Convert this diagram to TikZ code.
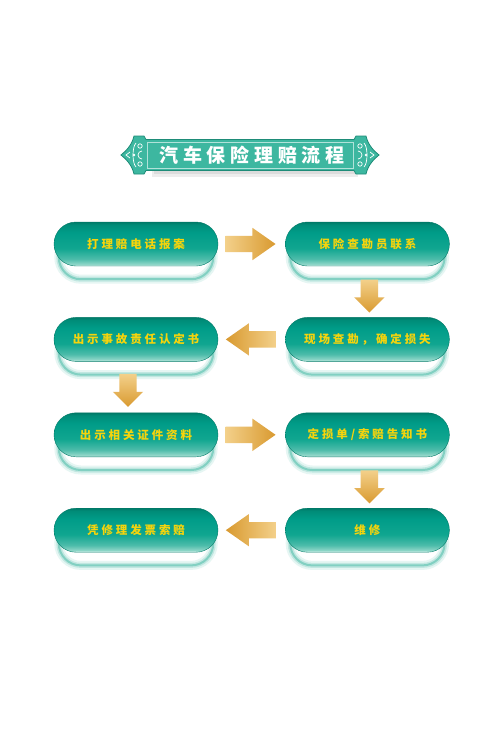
\documentclass[tikz,border=0pt]{standalone}
\usepackage{fontspec}
\newfontfamily\cjk[LetterSpace=25]{Noto Sans CJK SC}
\usetikzlibrary{calc, arrows, positioning, shapes.arrows, backgrounds}

\definecolor{pilldark}{HTML}{007A68}
\definecolor{pilltop}{HTML}{008C78}
\definecolor{pillteal}{HTML}{009C88}
\definecolor{pillmid}{HTML}{10A690}
\definecolor{pillsoft}{HTML}{4DBCAA}
\definecolor{pilllite}{HTML}{8FD6C8}
\definecolor{pillbot}{HTML}{E0F5F0}
\definecolor{pillrim}{HTML}{007A68}
\definecolor{glowteal}{HTML}{2FB09A}
\definecolor{labelyellow}{HTML}{F6D40C}
\definecolor{arrowlite}{HTML}{F3D08A}
\definecolor{arrowdark}{HTML}{D99A30}
\definecolor{bannerteal}{HTML}{3DB7A0}
\definecolor{bannerrim}{HTML}{1E8C78}

% shading of the pills: dark top, light rim at the bottom
\pgfdeclareverticalshading{pillshading}{100bp}{
	color(0bp)=(pillbot); color(25bp)=(pillbot); color(27bp)=(pilllite);
	color(33bp)=(pillsoft); color(45bp)=(pillmid); color(63bp)=(pillteal);
	color(72bp)=(pilltop); color(75bp)=(pilldark); color(100bp)=(pilldark)}

\begin{document}
\begin{tikzpicture} [x=1pt, y=1pt, node distance=51pt and 67pt,
		% define styles
		stepnode/.style={
			% The shape:
			rectangle,
			rounded corners=22pt,
			% The size:
			minimum width=164pt,
			minimum height=44pt,
			% The border:
			draw=pillrim, % thin dark rim
			% The filling:
			shading=pillshading,
			% Font
			font=\cjk\bfseries\fontsize{11.5}{12}\selectfont,
			text=labelyellow
		},
		glowouter/.style={
			rounded corners=22pt,
			draw=glowteal!12,
			line width=9pt,
			fill=white
		},
		glowmiddle/.style={
			rounded corners=22pt,
			draw=glowteal!30,
			line width=5pt
		},
		glowinner/.style={
			rounded corners=22pt,
			draw=glowteal!60,
			line width=2pt
		},
		rarrow/.style={
			single arrow,
			minimum height=50pt,
			inner sep=8pt,
			single arrow head extend=8pt,
			single arrow head indent=0pt,
			single arrow tip angle=70,
			left color=arrowlite,
			right color=arrowdark
		},
		larrow/.style={
			rarrow,
			shape border rotate=180,
			left color=arrowdark,
			right color=arrowlite
		},
		darrow/.style={
			single arrow,
			shape border rotate=270,
			minimum height=33pt,
			inner sep=8.5pt,
			single arrow head extend=6.5pt,
			single arrow head indent=0pt,
			single arrow tip angle=90,
			top color=arrowlite,
			bottom color=arrowdark
		},
		bannerfill/.style={
			fill=bannerteal,
			draw=bannerrim,
			line width=0.8pt
		},
		curl/.style={
			white,
			line width=0.7pt
		}]
		% end of style definition

		\useasboundingbox (0,0) rectangle (500,-750);

		% title
		\node (title) at (250,-155) {\cjk\bfseries\fontsize{19}{20}\selectfont\color{white}\hspace{4pt}汽车保险理赔流程};

		% draw nodes
		\node (iReport) [stepnode] at (136,-244) {打理赔电话报案};
		\node (iContact) [stepnode, right = of iReport] {保险查勘员联系};
		\node (iSurvey) [stepnode, below = of iContact] {现场查勘，确定损失};
		\node (iLiability) [stepnode, left = of iSurvey] {出示事故责任认定书};
		\node (iDocs) [stepnode, below = of iLiability] {出示相关证件资料};
		\node (iNotice) [stepnode, right = of iDocs] {定损单/索赔告知书};
		\node (iRepair) [stepnode, below = of iNotice] {维修};
		\node (iInvoice) [stepnode, left = of iRepair] {凭修理发票索赔};

		% connect nodes
		\path (iReport) -- (iContact) node [midway, rarrow, xshift=-7pt] (aOne) {};
		\path (iContact) -- (iSurvey) node [midway, darrow, xshift=2pt, yshift=0pt] (aTwo) {};
		\path (iSurvey) -- (iLiability) node [midway, larrow, xshift=5pt] (aThree) {};
		\path (iLiability) -- (iDocs) node [midway, darrow, xshift=-8pt, yshift=1pt] (aFour) {};
		\path (iDocs) -- (iNotice) node [midway, rarrow, xshift=-7pt] (aFive) {};
		\path (iNotice) -- (iRepair) node [midway, darrow, xshift=2pt, yshift=0pt] (aSix) {};
		\path (iRepair) -- (iInvoice) node [midway, larrow, xshift=5pt] (aSeven) {};

		\begin{scope}[on background layer]
			\fill[white] (0,0) rectangle (500,-750);
			% glow under the pills
			\foreach \n in {iReport, iContact, iSurvey, iLiability, iDocs, iNotice, iRepair, iInvoice} {
				\draw[glowouter] ($(\n.south west)+(5,-13)$) rectangle ($(\n.north east)+(-5,-13)$);
				\draw[glowmiddle] ($(\n.south west)+(5,-13)$) rectangle ($(\n.north east)+(-5,-13)$);
				\draw[glowinner] ($(\n.south west)+(5,-13)$) rectangle ($(\n.north east)+(-5,-13)$);
			}
			% banner behind the title
			\begin{scope}[shift={(title.center)}]
				\fill[black, opacity=0.07] (-98,6) rectangle (108,-22);
				\fill[black, opacity=0.07] (-96,4) rectangle (106,-19);
				\path[bannerfill] (-104,15.5) -- (104,15.5) -- (106,19) -- (116,19)
					.. controls (118,10) and (124,4) .. (129,0)
					.. controls (124,-4) and (118,-10) .. (116,-19) -- (106,-19) -- (104,-15.5)
					-- (-104,-15.5) -- (-106,-19) -- (-116,-19)
					.. controls (-118,-10) and (-124,-4) .. (-129,0)
					.. controls (-124,4) and (-118,10) .. (-116,19) -- (-106,19) -- cycle;
				\draw[white!60!bannerteal, line width=0.6pt] (-103,13) rectangle (103,-13);
				% curls at both ends
				\foreach \s in {1,-1} {
					\begin{scope}[xscale=\s]
						\draw[curl] (110,9) circle (2.2);
						\draw[curl] (110,-9) circle (2.2);
						\draw[curl] (108,4) arc (90:-90:4);
						\draw[curl] (114,12) .. controls (118,8) and (118,-8) .. (114,-12);
						\draw[curl] (120,3) -- (124,0) -- (120,-3);
						\fill[white] (116,0) circle (1.4);
					\end{scope}
				}
			\end{scope}
		\end{scope}
	\end{tikzpicture}
\end{document}
